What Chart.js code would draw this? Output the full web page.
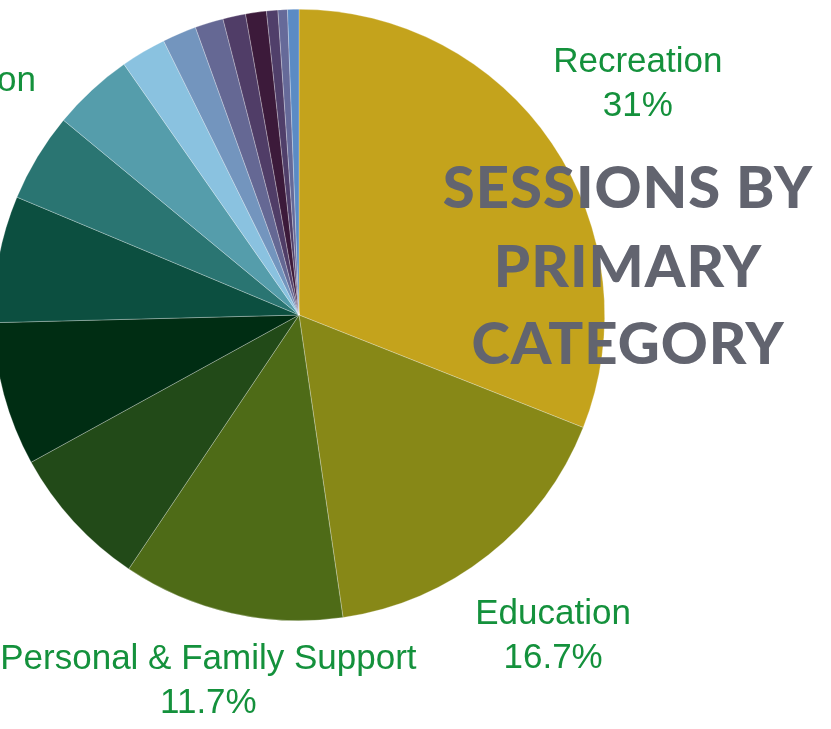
<!DOCTYPE html>
<html>
<head>
<meta charset="utf-8">
<script src="https://cdn.jsdelivr.net/npm/chart.js@4.4.1/dist/chart.umd.min.js"></script>
<style>
  html, body { margin: 0; padding: 0; background: #ffffff; width: 831px; height: 729px; overflow: hidden; }
  #wrap { position: absolute; left: -100px; top: 0; width: 931px; height: 729px; }
</style>
</head>
<body>
<div id="wrap"><canvas id="chart"></canvas></div>
<script>
// ---- data ----
const categories = [
  'Recreation',
  'Education',
  'Personal & Family Support',
  'Health & Wellness',
  'Arts & Culture',
  'Employment',
  'Information',
  'Social Services',
  'Nutrition',
  'Housing',
  'Legal Assistance',
  'Technology',
  'Volunteering',
  'Transportation',
  'Financial Literacy',
  'Other'
];
const sessionShares = [31, 16.7, 11.7, 7.6, 7.6, 6.7, 4.7, 4.3, 2.4, 1.8, 1.5, 1.2, 1.1, 0.6, 0.5, 0.6];
const labelledCategories = ['Recreation', 'Education', 'Personal & Family Support', 'Information'];
const titleLines = ['SESSIONS BY', 'PRIMARY', 'CATEGORY'];

// ---- style ----
const sliceColors = [
  '#C4A31C', '#878817', '#4E6B17', '#224A18', '#002D13', '#0C4F40', '#2A7572', '#559DAB',
  '#8AC2E0', '#7395BE', '#656894', '#503D67', '#3C1A3A', '#503F6A', '#666A99', '#5B8BC4'
];
const PAGE_OFFSET = 100; // wrapper is shifted left by this much
const labelColor = '#14913C';
const labelFont = '35px "Liberation Sans", Arial, sans-serif';
const labelLineHeight = 44;
const titleColor = '#62646F';

const total = sessionShares.reduce((a, b) => a + b, 0);
function pctText(v) {
  return (Math.round(v / total * 1000) / 10) + '%';
}

const sliceLabels = {
  id: 'sliceLabels',
  afterDraw(chart) {
    const ctx = chart.ctx;
    const meta = chart.getDatasetMeta(0);
    ctx.save();
    ctx.font = labelFont;
    ctx.fillStyle = labelColor;
    ctx.textAlign = 'center';
    ctx.textBaseline = 'middle';
    meta.data.forEach((arc, i) => {
      const name = categories[i];
      if (!labelledCategories.includes(name)) return;
      const p = arc.getProps(['x', 'y', 'startAngle', 'endAngle', 'outerRadius'], true);
      const mid = (p.startAngle + p.endAngle) / 2;
      const r = p.outerRadius * 1.34;
      let cx = p.x + Math.cos(mid) * r;
      let cy = p.y + Math.sin(mid) * r;
      const maxY = chart.height - 48;
      if (cy > maxY) cy = maxY;
      ctx.fillText(name, cx, cy - labelLineHeight / 2);
      ctx.fillText(pctText(sessionShares[i]), cx, cy + labelLineHeight / 2);
    });
    ctx.restore();
  }
};

const titlePlugin = {
  id: 'overlayTitle',
  afterDraw(chart) {
    const ctx = chart.ctx;
    ctx.save();
    ctx.font = '900 58px Lato, "DejaVu Sans", sans-serif';
    ctx.fillStyle = titleColor;
    ctx.textAlign = 'center';
    ctx.textBaseline = 'alphabetic';
    try { ctx.letterSpacing = '1px'; } catch (e) {}
    const cx = 628 + PAGE_OFFSET;
    const baselines = [208, 287, 364];
    titleLines.forEach((t, i) => ctx.fillText(t, cx, baselines[i]));
    ctx.restore();
  }
};

new Chart(document.getElementById('chart'), {
  type: 'pie',
  data: {
    labels: categories,
    datasets: [{
      data: sessionShares,
      backgroundColor: sliceColors,
      borderColor: 'rgba(255,255,255,0.45)',
      borderWidth: 0.6,
      hoverOffset: 0
    }]
  },
  options: {
    responsive: true,
    maintainAspectRatio: false,
    animation: false,
    layout: { padding: { left: 0, right: 133, top: 9, bottom: 108 } },
    plugins: {
      legend: { display: false },
      tooltip: { enabled: false },
      title: { display: false }
    }
  },
  plugins: [sliceLabels, titlePlugin]
});
</script>
</body>
</html>
